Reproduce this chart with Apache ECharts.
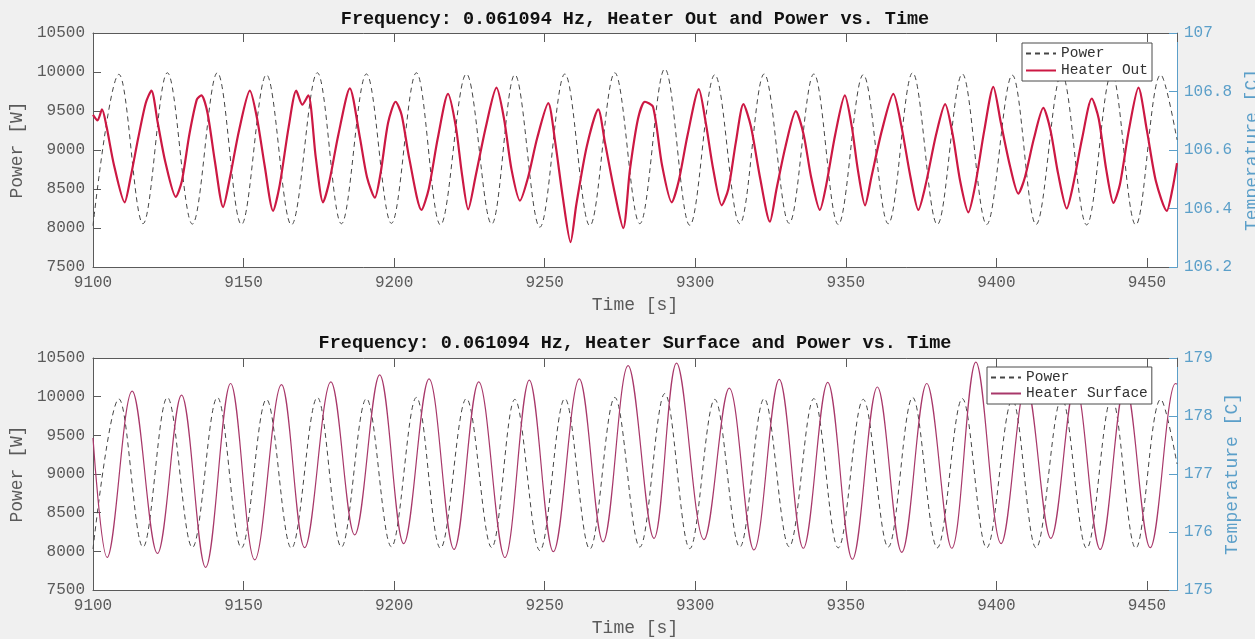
<!DOCTYPE html>
<html>
<head>
<meta charset="utf-8">
<title>Heater response to power modulation</title>
<script src="https://cdn.jsdelivr.net/npm/echarts@6/dist/echarts.min.js"></script>
<style>
  html, body { margin: 0; padding: 0; background: #f0f0f0; }
  #chart { width: 1255px; height: 639px; }
</style>
</head>
<body>
<div id="chart"></div>
<script>
// ---- data -------------------------------------------------------------
const freqLabel = '0.061094 Hz';

// time window [s]
const timeMin = 9100;
const timeMax = 9460;
const timeStep = 50;

// power axis [W]
const powerMin = 7500;
const powerMax = 10500;
const powerStep = 500;

// temperature axes [C]
const outTempMin = 106.2;
const outTempMax = 107;
const outTempStep = 0.2;
const surfTempMin = 175;
const surfTempMax = 179;
const surfTempStep = 1;

// heater power command [time s, W] (peaks and troughs of the modulation)
const powerTrace = [
  [9100, 8030], [9108.6, 9970], [9116.6, 8055], [9124.7, 9990], [9133.0, 8050],
  [9141.3, 9990], [9149.3, 8045], [9157.6, 9965], [9165.9, 8040], [9174.5, 9990],
  [9182.5, 8055], [9190.8, 9975], [9199.1, 8060], [9207.4, 9990], [9215.4, 8040],
  [9224.0, 9975], [9232.4, 8050], [9240.1, 9965], [9248.4, 8010], [9256.7, 9975],
  [9265.0, 8030], [9273.3, 9990], [9281.6, 8055], [9289.9, 10040], [9298.2, 8035],
  [9306.5, 9965], [9314.8, 8055], [9322.9, 9975], [9331.2, 8060], [9339.4, 9975],
  [9347.5, 8045], [9355.8, 9965], [9364.1, 8055], [9372.2, 9990], [9380.4, 8045],
  [9388.7, 9975], [9396.8, 8045], [9405.3, 9960], [9413.2, 8045], [9421.7, 9980],
  [9430.0, 8040], [9438.3, 9985], [9446.3, 8040], [9454.6, 9965], [9460, 9130]
];

// heater outlet temperature [time s, C]
const heaterOut = [
  [9100, 106.72], [9101.5, 106.701], [9103.0, 106.739], [9104.5, 106.68], [9107.0, 106.547],
  [9110.5, 106.421], [9112.5, 106.507], [9115.0, 106.64], [9117.5, 106.76], [9119.4, 106.803],
  [9121.5, 106.693], [9124.0, 106.56], [9127.5, 106.44], [9129.5, 106.493], [9132.0, 106.653],
  [9134.5, 106.773], [9136.0, 106.787], [9138.0, 106.728], [9140.5, 106.56], [9143.2, 106.405],
  [9145.5, 106.507], [9148.5, 106.667], [9152.1, 106.803], [9154.5, 106.707], [9157.0, 106.547],
  [9159.8, 106.392], [9162.0, 106.48], [9165.0, 106.68], [9167.5, 106.803], [9169.5, 106.755],
  [9171.5, 106.787], [9174.0, 106.573], [9176.4, 106.421], [9178.5, 106.493], [9181.5, 106.653],
  [9185.3, 106.811], [9188.6, 106.645], [9191.0, 106.507], [9193.6, 106.437], [9195.5, 106.52],
  [9198.0, 106.693], [9200.5, 106.765], [9202.5, 106.72], [9205.0, 106.573], [9209.1, 106.395],
  [9211.5, 106.467], [9214.5, 106.64], [9217.9, 106.792], [9220.5, 106.68], [9222.5, 106.52],
  [9224.6, 106.397], [9227.0, 106.507], [9230.5, 106.68], [9234.0, 106.813], [9236.5, 106.707],
  [9239.0, 106.533], [9241.8, 106.427], [9244.5, 106.507], [9247.5, 106.64], [9251.2, 106.76],
  [9253.5, 106.627], [9256.0, 106.44], [9258.6, 106.285], [9260.5, 106.413], [9264.0, 106.613],
  [9267.8, 106.739], [9270.0, 106.627], [9273.0, 106.467], [9276.1, 106.333], [9278.3, 106.531],
  [9281.0, 106.707], [9283.3, 106.765], [9286.0, 106.747], [9289.0, 106.547], [9292.2, 106.421],
  [9294.5, 106.493], [9297.5, 106.653], [9301.2, 106.808], [9303.5, 106.693], [9306.0, 106.533],
  [9308.8, 106.411], [9311.0, 106.467], [9313.5, 106.627], [9316.0, 106.757], [9318.5, 106.68],
  [9321.5, 106.507], [9324.8, 106.355], [9327.0, 106.467], [9330.0, 106.613], [9333.4, 106.733],
  [9336.0, 106.653], [9338.5, 106.507], [9341.4, 106.395], [9343.5, 106.48], [9346.5, 106.653],
  [9349.7, 106.787], [9352.0, 106.68], [9354.0, 106.533], [9356.4, 106.411], [9358.5, 106.507],
  [9362.0, 106.667], [9365.8, 106.792], [9368.5, 106.68], [9371.5, 106.507], [9374.1, 106.395],
  [9376.5, 106.48], [9380.0, 106.653], [9383.0, 106.757], [9385.5, 106.653], [9388.0, 106.493],
  [9390.7, 106.387], [9393.0, 106.48], [9396.0, 106.667], [9399.0, 106.816], [9401.5, 106.693],
  [9404.5, 106.547], [9407.3, 106.451], [9409.5, 106.507], [9412.5, 106.64], [9415.6, 106.744],
  [9418.0, 106.667], [9420.5, 106.52], [9423.4, 106.40], [9425.5, 106.48], [9428.5, 106.64],
  [9431.7, 106.776], [9434.0, 106.707], [9436.5, 106.533], [9438.9, 106.419], [9441.0, 106.48],
  [9444.0, 106.667], [9447.2, 106.813], [9450.0, 106.667], [9453.0, 106.493], [9456.6, 106.392],
  [9458.5, 106.467], [9460.0, 106.555]
];

// heater surface temperature [time s, C]
const heaterSurface = [
  [9100, 177.62], [9104.7, 175.56], [9113.0, 178.43], [9121.4, 175.63], [9129.4, 178.36],
  [9137.4, 175.39], [9145.7, 178.56], [9153.7, 175.52], [9162.6, 178.54], [9170.3, 175.73],
  [9179.0, 178.59], [9186.9, 175.95], [9195.2, 178.71], [9203.2, 175.80], [9211.6, 178.64],
  [9219.9, 175.70], [9228.1, 178.59], [9236.8, 175.56], [9244.9, 178.62], [9252.9, 175.66],
  [9261.5, 178.64], [9269.4, 175.83], [9277.7, 178.87], [9286.3, 175.89], [9293.8, 178.91],
  [9302.9, 175.87], [9311.3, 178.48], [9319.5, 175.69], [9327.9, 178.63], [9335.9, 175.72],
  [9344.0, 178.58], [9352.2, 175.53], [9360.5, 178.50], [9368.6, 175.65], [9376.9, 178.56],
  [9385.2, 175.72], [9393.2, 178.93], [9401.6, 175.80], [9409.9, 178.55], [9418.1, 175.89],
  [9426.2, 178.55], [9434.5, 175.70], [9442.8, 178.55], [9451.1, 175.73], [9459.5, 178.56],
  [9460, 178.55]
];

// ---- styling ------------------------------------------------------------
const MONO = '"Liberation Mono", "DejaVu Sans Mono", monospace';
const TEXT_GRAY = '#5a5a5a';
const BOX_GRAY = '#5a5a5a';
const RIGHT_BLUE = '#5b9fc9';
const POWER_COLOR = '#454545';
const OUT_COLOR = '#cc1843';
const SURF_COLOR = '#a8386a';

const grids = [
  { left: 93, right: 78, top: 33, height: 234 },
  { left: 93, right: 78, top: 358, height: 232 }
];

const plain = v => String(v);

function bottomTimeAxis(gridIndex) {
  return {
    type: 'value', gridIndex, position: 'bottom',
    min: timeMin, max: timeMax, interval: timeStep,
    name: 'Time [s]', nameLocation: 'middle', nameGap: 29,
    nameTextStyle: { fontFamily: MONO, fontSize: 18, color: TEXT_GRAY },
    axisLine: { show: true, onZero: false, lineStyle: { color: BOX_GRAY, width: 1 } },
    axisTick: { show: true, inside: true, length: 9, lineStyle: { color: BOX_GRAY } },
    axisLabel: { fontFamily: MONO, fontSize: 16, color: TEXT_GRAY, margin: 8,
                 showMaxLabel: false, formatter: plain },
    splitLine: { show: false }
  };
}

function topTimeAxis(gridIndex) {
  return {
    type: 'value', gridIndex, position: 'top',
    min: timeMin, max: timeMax, interval: timeStep,
    axisLine: { show: true, onZero: false, lineStyle: { color: BOX_GRAY, width: 1 } },
    axisTick: { show: true, inside: true, length: 9, lineStyle: { color: BOX_GRAY } },
    axisLabel: { show: false },
    splitLine: { show: false }
  };
}

function powerAxis(gridIndex) {
  return {
    type: 'value', gridIndex, position: 'left',
    min: powerMin, max: powerMax, interval: powerStep,
    name: 'Power [W]', nameLocation: 'middle', nameGap: 62, nameRotate: 90,
    nameTextStyle: { fontFamily: MONO, fontSize: 18, color: TEXT_GRAY },
    axisLine: { show: true, onZero: false, lineStyle: { color: BOX_GRAY, width: 1 } },
    axisTick: { show: true, inside: true, length: 8, lineStyle: { color: BOX_GRAY } },
    axisLabel: { fontFamily: MONO, fontSize: 16, color: TEXT_GRAY, margin: 8, formatter: plain },
    splitLine: { show: false }
  };
}

function tempAxis(gridIndex, min, max, step, gap) {
  return {
    type: 'value', gridIndex, position: 'right',
    min, max, interval: step,
    name: 'Temperature [C]', nameLocation: 'middle', nameGap: gap, nameRotate: 90,
    nameTextStyle: { fontFamily: MONO, fontSize: 18, color: RIGHT_BLUE },
    axisLine: { show: true, onZero: false, lineStyle: { color: RIGHT_BLUE, width: 1 } },
    axisTick: { show: true, inside: true, length: 8, lineStyle: { color: RIGHT_BLUE } },
    axisLabel: {
      fontFamily: MONO, fontSize: 16, color: RIGHT_BLUE, margin: 7,
      formatter: v => String(+v.toFixed(1))
    },
    splitLine: { show: false }
  };
}

function powerSeries(xi, yi) {
  return {
    name: 'Power', type: 'line', xAxisIndex: xi, yAxisIndex: yi,
    data: powerTrace, symbol: 'none', smooth: 0.36,
    lineStyle: { color: POWER_COLOR, width: 1, type: [5, 4] },
    itemStyle: { color: POWER_COLOR },
    silent: true, z: 2
  };
}

const legendBase = {
  orient: 'vertical', backgroundColor: '#ffffff',
  borderColor: '#4a4a4a', borderWidth: 1, borderRadius: 0,
  itemWidth: 30, itemHeight: 14,
  itemStyle: { opacity: 0 },
  textStyle: { fontFamily: MONO, fontSize: 14.5, color: '#333333' }
};

const option = {
  backgroundColor: '#f0f0f0',
  animation: false,
  title: [
    {
      text: 'Frequency: ' + freqLabel + ', Heater Out and Power vs. Time',
      left: 635, top: 10, textAlign: 'center', padding: 0,
      textStyle: { fontFamily: MONO, fontSize: 18.5, fontWeight: 'bold', color: '#111111' }
    },
    {
      text: 'Frequency: ' + freqLabel + ', Heater Surface and Power vs. Time',
      left: 635, top: 334, textAlign: 'center', padding: 0,
      textStyle: { fontFamily: MONO, fontSize: 18.5, fontWeight: 'bold', color: '#111111' }
    }
  ],
  grid: grids.map(g => Object.assign({
    show: true, backgroundColor: '#ffffff', borderWidth: 0,
    containLabel: false, outerBoundsMode: 'none'
  }, g)),
  legend: [
    Object.assign({}, legendBase, {
      data: ['Power', 'Heater Out'], left: 1022, top: 43,
      padding: [3, 4, 3, 3], itemGap: 2
    }),
    Object.assign({}, legendBase, {
      data: ['Power', 'Heater Surface'], left: 987, top: 367,
      padding: [3, 4, 3, 3], itemGap: 1
    })
  ],
  xAxis: [bottomTimeAxis(0), topTimeAxis(0), bottomTimeAxis(1), topTimeAxis(1)],
  yAxis: [
    powerAxis(0),
    tempAxis(0, outTempMin, outTempMax, outTempStep, 61),
    powerAxis(1),
    tempAxis(1, surfTempMin, surfTempMax, surfTempStep, 42)
  ],
  series: [
    powerSeries(0, 0),
    {
      name: 'Heater Out', type: 'line', xAxisIndex: 0, yAxisIndex: 1,
      data: heaterOut, symbol: 'none', smooth: 0.25,
      lineStyle: { color: OUT_COLOR, width: 2.2 },
      itemStyle: { color: OUT_COLOR },
      silent: true, z: 3
    },
    powerSeries(2, 2),
    {
      name: 'Heater Surface', type: 'line', xAxisIndex: 2, yAxisIndex: 3,
      data: heaterSurface, symbol: 'none', smooth: 0.36,
      lineStyle: { color: SURF_COLOR, width: 1.2 },
      itemStyle: { color: SURF_COLOR },
      silent: true, z: 3
    }
  ]
};

const chart = echarts.init(document.getElementById('chart'), null, { renderer: 'canvas' });
chart.setOption(option);
</script>
</body>
</html>
